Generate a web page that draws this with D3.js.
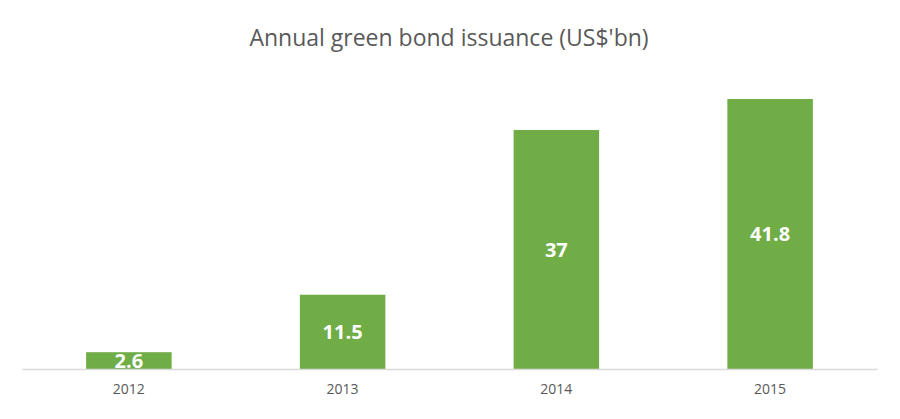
<!DOCTYPE html>
<html><head><meta charset="utf-8">
<script src="https://cdn.jsdelivr.net/npm/d3@7"></script>
<style>body{margin:0;background:#fff}</style></head>
<body><svg id="c" width="900" height="419"></svg>
<script>
const categories = ["2012","2013","2014","2015"];
const values = [2.6, 11.5, 37, 41.8];
const title = "Annual green bond issuance (US$'bn)";

const svg = d3.select("#c");
const x = d3.scaleBand().domain(categories).range([22, 877]).paddingInner(0.6).paddingOuter(0.3);
const y = d3.scaleLinear().domain([0, 41.8]).range([369, 99]);

svg.append("text").attr("x", 449).attr("y", 46).attr("text-anchor", "middle")
  .attr("font-family", "Open Sans, sans-serif").attr("font-size", 23).attr("fill", "#595959").text(title);

svg.selectAll("rect.bar").data(values).join("rect").attr("class","bar")
  .attr("x", (d,i) => x(categories[i])).attr("width", x.bandwidth())
  .attr("y", d => y(d)).attr("height", d => y(0) - y(d)).attr("fill", "#70AD47");

svg.selectAll("text.lbl").data(values).join("text").attr("class","lbl")
  .attr("x", (d,i) => x(categories[i]) + x.bandwidth()/2)
  .attr("y", d => (y(d) + y(0))/2 + 7)
  .attr("text-anchor","middle").attr("font-family","Open Sans, sans-serif")
  .attr("font-weight","bold").attr("font-size",20).attr("fill","#fff").text(d => d);

const ax = svg.append("g").attr("transform", `translate(0,${y(0)})`)
  .call(d3.axisBottom(x).tickSize(0).tickPadding(15));
ax.select(".domain").attr("stroke", "#d9d9d9").attr("stroke-width", 1.3);
ax.selectAll("text").attr("font-family","Open Sans, sans-serif").attr("font-size",14).attr("fill","#595959");
</script></body></html>
